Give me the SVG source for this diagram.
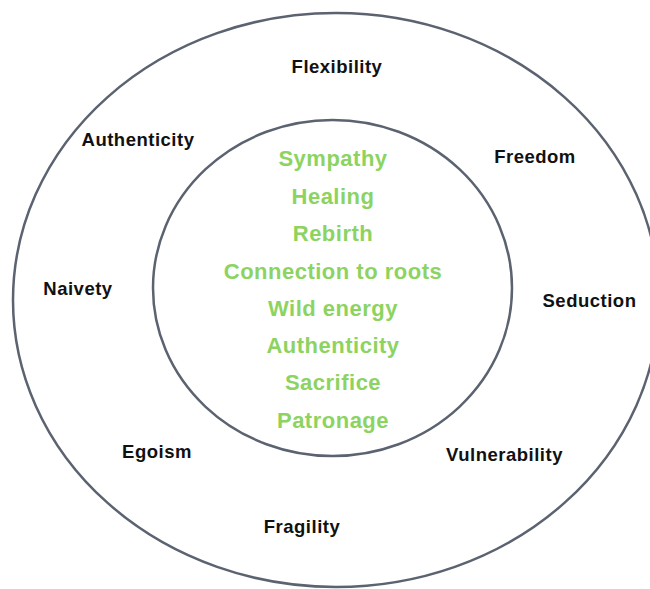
<svg xmlns="http://www.w3.org/2000/svg" width="650" height="589" viewBox="0 0 650 589">
<style>
.ring{fill:none;stroke:#5b6270;stroke-width:2.5}
.outer{font-family:"Liberation Sans",Arial,sans-serif;font-weight:bold;font-size:18.5px;letter-spacing:0.5px;fill:#111;text-anchor:middle}
.inner{font-family:"Liberation Sans",Arial,sans-serif;font-weight:bold;font-size:22px;letter-spacing:0.5px;fill:#8dd35f;text-anchor:middle}
</style>
<rect width="650" height="589" fill="#fff"/>
<g id="outer-ring">
<ellipse class="ring" cx="336" cy="300" rx="323" ry="287"/>
<text class="outer" x="337" y="73">Flexibility</text>
<text class="outer" x="138" y="146">Authenticity</text>
<text class="outer" x="535" y="163">Freedom</text>
<text class="outer" x="78" y="295">Naivety</text>
<text class="outer" x="589.5" y="307">Seduction</text>
<text class="outer" x="157" y="458">Egoism</text>
<text class="outer" x="504.5" y="461">Vulnerability</text>
<text class="outer" x="302" y="533">Fragility</text>
</g>
<g id="inner-ring">
<ellipse class="ring" cx="332.5" cy="288" rx="179.5" ry="168"/>
<text class="inner" x="333" y="166">Sympathy</text>
<text class="inner" x="333" y="203.5">Healing</text>
<text class="inner" x="333" y="241">Rebirth</text>
<text class="inner" x="333" y="278.5">Connection to roots</text>
<text class="inner" x="333" y="316">Wild energy</text>
<text class="inner" x="333" y="353">Authenticity</text>
<text class="inner" x="333" y="390">Sacrifice</text>
<text class="inner" x="333" y="427.5">Patronage</text>
</g>
<g id="connectors"/>
</svg>
